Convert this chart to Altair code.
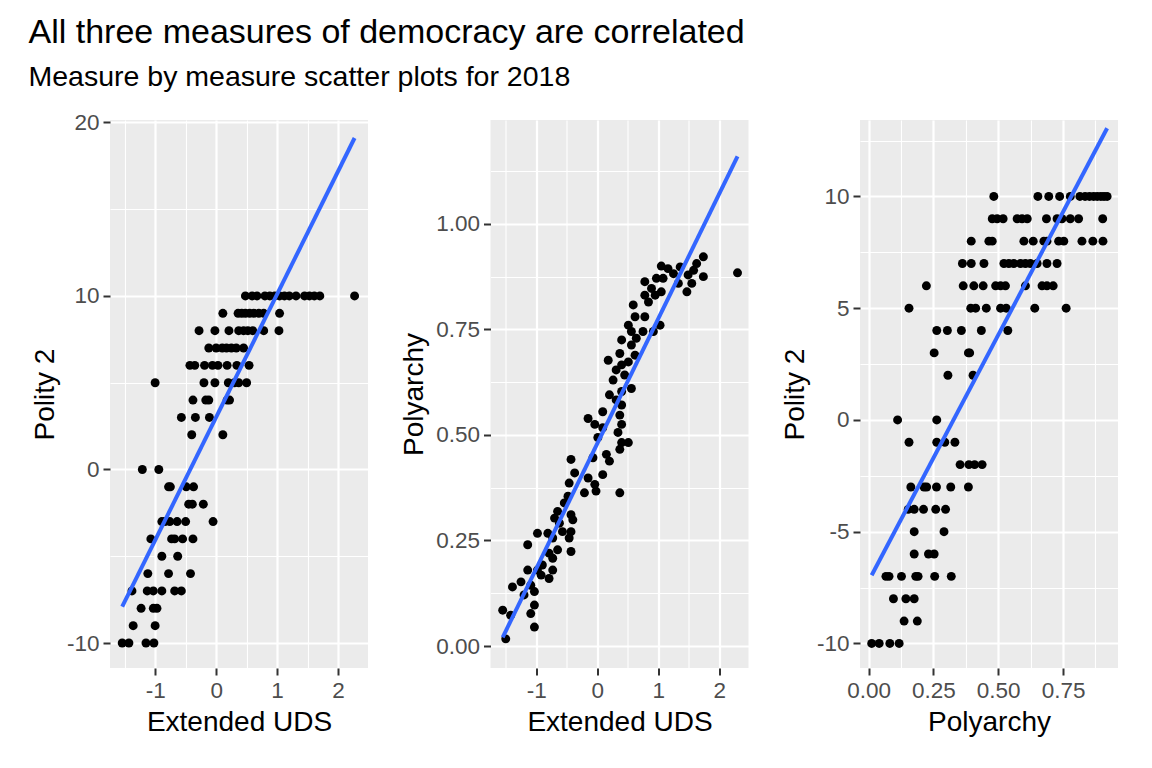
import altair as alt
import pandas as pd

# ---------------- Panel 1: Extended UDS (x) vs Polity 2 (y) ----------------
p1_uds = [
    0.48, 0.59, 0.67, 0.80, 0.88, 0.96, 1.04, 1.12, 1.20, 1.31, 1.45, 1.53, 1.61, 1.70, 2.27,
    0.11, 0.36, 0.42, 0.48, 0.55, 0.62, 0.70, 0.78, 1.04,
    -0.28, -0.02, 0.21, 0.37, 0.45, 0.52, 0.60, 0.78, 1.03,
    -0.12, 0.00, 0.10, 0.17, 0.25, 0.33, 0.45,
    -0.43, -0.35, -0.19, -0.06, 0.03, 0.18, 0.34, 0.54,
    -1.00, -0.20, -0.02, 0.20, 0.30, 0.37, 0.50,
    -0.38, -0.17, -0.12, 0.18, 0.22,
    -0.57, -0.34, -0.11,
    -0.40, 0.11,
    -1.21, -0.94,
    -0.78, -0.75, -0.49, -0.37,
    -0.45, -0.39, -0.21,
    -0.89, -0.84, -0.76, -0.64, -0.50, -0.05,
    -1.07, -0.73, -0.68, -0.55, -0.38,
    -0.89, -0.63,
    -1.12, -0.78, -0.42,
    -1.38, -1.13, -1.03, -0.89, -0.68, -0.57,
    -1.23, -1.03, -0.97,
    -1.36, -1.00,
    -1.54, -1.43, -1.15, -1.02,
]
p1_polity = [
    10, 10, 10, 10, 10, 10, 10, 10, 10, 10, 10, 10, 10, 10, 10,
    9, 9, 9, 9, 9, 9, 9, 9, 9,
    8, 8, 8, 8, 8, 8, 8, 8, 8,
    7, 7, 7, 7, 7, 7, 7,
    6, 6, 6, 6, 6, 6, 6, 6,
    5, 5, 5, 5, 5, 5, 5,
    4, 4, 4, 4, 4,
    3, 3, 3,
    2, 2,
    0, 0,
    -1, -1, -1, -1,
    -2, -2, -2,
    -3, -3, -3, -3, -3, -3,
    -4, -4, -4, -4, -4,
    -5, -5,
    -6, -6, -6,
    -7, -7, -7, -7, -7, -7,
    -8, -8, -8,
    -9, -9,
    -10, -10, -10, -10,
]

# ---------------- Panel 2: Extended UDS (x) vs Polyarchy (y) ----------------
p2_uds = [
    1.05, 1.16, 1.25, 1.36, 1.49, 1.58, 1.63, 1.74, 1.74, 1.55, 1.47, 1.33, 1.08, 0.97,
    0.78, 0.89, 0.95, 1.05, 0.78, 0.84, 0.59, 0.62, 0.78, 1.03, 0.92, 0.51, 0.56, 0.64,
    0.75, 0.40, 0.56, 0.62, 0.37, 0.18, 0.40, 0.51, 0.31, 0.45, 0.26, 0.56, 0.40, 0.20,
    0.31, 0.40, 0.09, -0.15, 0.37, 2.30,
    -0.04, 0.09, 0.40, 0.34, 0.01, 0.40, 0.51, 0.37, 0.15, 0.20, -0.07, -0.43, 0.09,
    -0.37, -0.15, -0.46, -0.04, -0.21, -0.02, 0.37, -0.48, -0.54, -0.65, -0.43, -0.40,
    -0.70, -0.62, -0.57, -0.43, -0.46, -0.98, -0.81, -0.73, -1.14, -0.65, -0.43, -0.79,
    -0.73, -0.90, -1.14, -0.98, -0.73, -0.92, -0.79, -1.25, -1.39, -1.09, -1.03, -1.20,
    -1.55, -1.42, -1.03, -1.09, -1.03, -1.50,
]
p2_polyarchy = [
    0.900, 0.894, 0.882, 0.898, 0.879, 0.890, 0.906, 0.922, 0.875, 0.859, 0.839, 0.859, 0.871, 0.871,
    0.863, 0.847, 0.831, 0.839, 0.831, 0.815, 0.808, 0.780, 0.780, 0.760, 0.745, 0.760, 0.745, 0.729,
    0.745, 0.725, 0.713, 0.689, 0.693, 0.677, 0.666, 0.673, 0.654, 0.642, 0.630, 0.610, 0.603, 0.595,
    0.583, 0.571, 0.555, 0.539, 0.547, 0.884,
    0.525, 0.517, 0.525, 0.506, 0.494, 0.482, 0.482, 0.466, 0.454, 0.438, 0.446, 0.442, 0.406,
    0.410, 0.398, 0.386, 0.383, 0.363, 0.367, 0.363, 0.355, 0.339, 0.319, 0.311, 0.299,
    0.303, 0.291, 0.271, 0.271, 0.256, 0.267, 0.267, 0.256, 0.240, 0.228, 0.224, 0.220,
    0.208, 0.192, 0.180, 0.180, 0.180, 0.168, 0.160, 0.152, 0.140, 0.144, 0.129, 0.121,
    0.085, 0.073, 0.097, 0.077, 0.045, 0.017,
]

# ---------------- Panel 3: Polyarchy (x) vs Polity 2 (y) ----------------
p3_polyarchy = [
    0.483, 0.653, 0.695, 0.737, 0.778, 0.815, 0.835, 0.852, 0.868, 0.882, 0.896, 0.908, 0.920,
    0.477, 0.496, 0.519, 0.573, 0.592, 0.612, 0.686, 0.727, 0.746, 0.778, 0.810, 0.903,
    0.396, 0.464, 0.477, 0.599, 0.635, 0.676, 0.688, 0.733, 0.753, 0.823, 0.865, 0.904,
    0.362, 0.396, 0.445, 0.522, 0.541, 0.560, 0.586, 0.605, 0.624, 0.650, 0.688, 0.727,
    0.223, 0.365, 0.406, 0.442, 0.490, 0.509, 0.528, 0.605, 0.669, 0.688, 0.712,
    0.156, 0.394, 0.413, 0.454, 0.509, 0.531, 0.641, 0.762,
    0.263, 0.304, 0.358, 0.435, 0.537,
    0.253, 0.385, 0.390,
    0.306, 0.403,
    0.112, 0.263,
    0.156, 0.263, 0.294, 0.333,
    0.353, 0.387, 0.409, 0.438,
    0.163, 0.214, 0.224, 0.262, 0.317, 0.385,
    0.153, 0.176, 0.212, 0.259, 0.297,
    0.176, 0.291,
    0.176, 0.231, 0.253,
    0.067, 0.079, 0.127, 0.182, 0.191, 0.255, 0.319,
    0.096, 0.144, 0.176,
    0.137, 0.188,
    0.012, 0.041, 0.082, 0.118,
]
p3_polity = [
    10, 10, 10, 10, 10, 10, 10, 10, 10, 10, 10, 10, 10,
    9, 9, 9, 9, 9, 9, 9, 9, 9, 9, 9, 9,
    8, 8, 8, 8, 8, 8, 8, 8, 8, 8, 8, 8,
    7, 7, 7, 7, 7, 7, 7, 7, 7, 7, 7, 7,
    6, 6, 6, 6, 6, 6, 6, 6, 6, 6, 6,
    5, 5, 5, 5, 5, 5, 5, 5,
    4, 4, 4, 4, 4,
    3, 3, 3,
    2, 2,
    0, 0,
    -1, -1, -1, -1,
    -2, -2, -2, -2,
    -3, -3, -3, -3, -3, -3,
    -4, -4, -4, -4, -4,
    -5, -5,
    -6, -6, -6,
    -7, -7, -7, -7, -7, -7, -7,
    -8, -8, -8,
    -9, -9,
    -10, -10, -10, -10,
]

# Axis breaks: labelled (major) step and grid-only (minor) breaks
uds_breaks = [-1.5, -1, -0.5, 0, 0.5, 1, 1.5, 2]
uds_step = 1
polity_a_breaks = [-10, -5, 0, 5, 10, 15, 20]
polity_a_step = 10
polyarchy_y_breaks = [0, 0.125, 0.25, 0.375, 0.5, 0.625, 0.75, 0.875, 1.0, 1.125]
polyarchy_x_breaks = [0, 0.125, 0.25, 0.375, 0.5, 0.625, 0.75, 0.875]
polyarchy_step = 0.25
polity_b_breaks = [-10, -7.5, -5, -2.5, 0, 2.5, 5, 7.5, 10, 12.5]
polity_b_step = 5

FONT = "Liberation Sans"


def make_axis(breaks, step, decimals, title):
    k = 1.0 / step
    test = f"abs(datum.value * {k} - round(datum.value * {k})) < 0.000001"
    if decimals:
        lab = f"format(datum.value, '.{decimals}f')"
    else:
        lab = "toString(round(datum.value))"
    return alt.Axis(
        title=title,
        values=breaks,
        labelExpr=f"({test}) ? {lab} : ''",
        grid=True,
        gridColor="white",
        gridWidth={"condition": {"test": test, "value": 2.2}, "value": 1.1},
        tickOpacity={"condition": {"test": test, "value": 1}, "value": 0},
        labelOverlap=False,
        labelFlush=False,
        labelBound=False,
    )


def panel(xs, ys, xtitle, ytitle, xdom, ydom, xb, xstep, xdec, yb, ystep, ydec):
    df = pd.DataFrame({"x": xs, "y": ys})
    xenc = alt.X("x:Q", scale=alt.Scale(domain=xdom, nice=False, zero=False),
                 axis=make_axis(xb, xstep, xdec, xtitle))
    yenc = alt.Y("y:Q", scale=alt.Scale(domain=ydom, nice=False, zero=False),
                 axis=make_axis(yb, ystep, ydec, ytitle))
    base = alt.Chart(df)
    pts = base.mark_circle(size=80, color="black", opacity=1).encode(x=xenc, y=yenc)
    line = base.transform_regression("x", "y").mark_line(
        color="#3366FF", strokeWidth=4
    ).encode(x=xenc, y=yenc)
    return alt.layer(pts, line).properties(width=258, height=548)


c1 = panel(p1_uds, p1_polity, "Extended UDS", "Polity 2",
           [-1.74, 2.49], [-11.44, 20.14],
           uds_breaks, uds_step, 0, polity_a_breaks, polity_a_step, 0)
c2 = panel(p2_uds, p2_polyarchy, "Extended UDS", "Polyarchy",
           [-1.75, 2.48], [-0.052, 1.246],
           uds_breaks, uds_step, 0, polyarchy_y_breaks, polyarchy_step, 2)
c3 = panel(p3_polyarchy, p3_polity, "Polyarchy", "Polity 2",
           [-0.033, 0.962], [-11.1, 13.42],
           polyarchy_x_breaks, polyarchy_step, 2, polity_b_breaks, polity_b_step, 0)

chart = alt.hconcat(c1, c2, c3, spacing=32.5).properties(
    title=alt.TitleParams(
        text="All three measures of democracy are correlated",
        subtitle="Measure by measure scatter plots for 2018",
        anchor="start",
        font=FONT,
        fontSize=34,
        fontWeight="normal",
        color="black",
        subtitleFont=FONT,
        subtitleFontSize=28.5,
        subtitleColor="black",
        subtitlePadding=13,
        offset=20,
        dx=-3,
    ),
    padding={"left": 20, "top": 7, "right": 5, "bottom": 5},
).configure_view(
    fill="#EBEBEB", stroke=None
).configure_axis(
    domain=False,
    tickColor="#333333",
    tickSize=7,
    tickWidth=2,
    labelColor="#4D4D4D",
    labelFont=FONT,
    labelFontSize=22.5,
    labelPadding=4,
    titleFont=FONT,
    titleFontSize=28,
    titleFontWeight="normal",
    titleColor="black",
    titlePadding=7,
)

chart.save("out.html", embed_options={"renderer": "svg", "actions": False})
